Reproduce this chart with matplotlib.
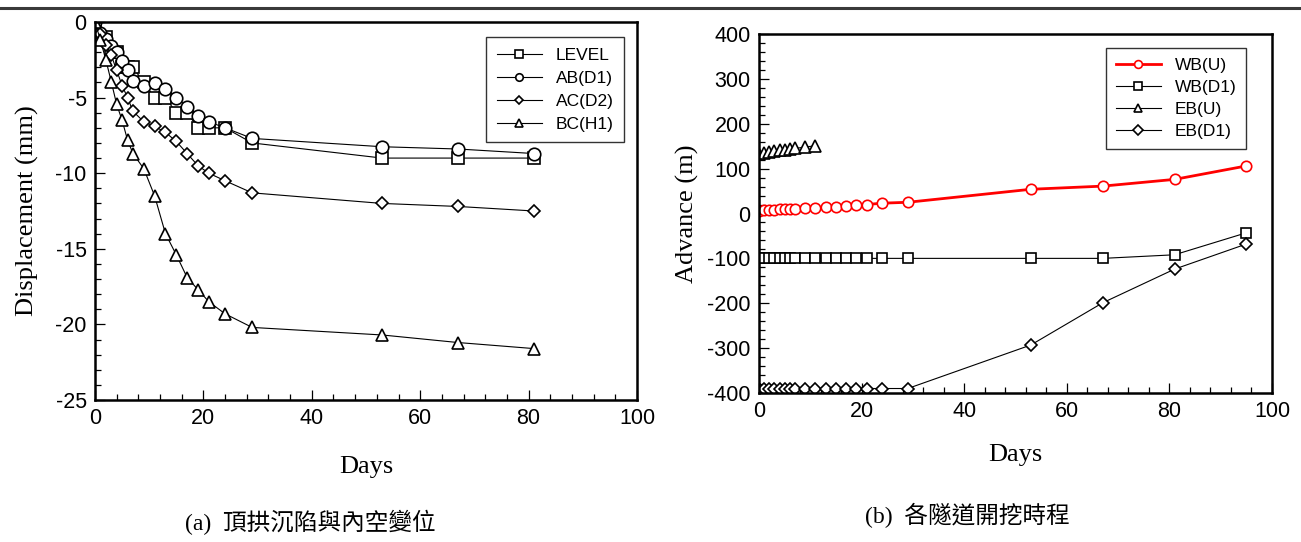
import matplotlib
matplotlib.use('Agg')
import matplotlib.pyplot as plt
from matplotlib.ticker import MultipleLocator
from matplotlib.lines import Line2D

# days of measurement
days_a = [0, 1, 2, 3, 4, 5, 6, 7, 9, 11, 13, 15, 17, 19, 21, 24, 29, 53, 67, 81]
days_b = [0, 1, 2, 3, 4, 5, 6, 7, 9, 11, 13, 15, 17, 19, 21, 24, 29, 53, 67, 81, 95]
days_eb_u = [0, 1, 2, 3, 4, 5, 6, 7, 9, 11]

# (a) crown settlement and convergence (mm)
level = [0, -1, -1, -2, -2, -3, -3, -3, -4, -5, -5, -6, -6, -7, -7, -7, -8, -9, -9, -9]
ab_d1 = [0, -0.7, -1.1, -1.6, -2.0, -2.6, -3.2, -3.9, -4.2, -4.05, -4.45, -5.0, -5.6,
         -6.2, -6.6, -7.0, -7.7, -8.25, -8.4, -8.7]
ac_d2 = [0, -0.8, -1.5, -2.2, -3.2, -4.2, -5.0, -5.9, -6.6, -6.9, -7.3, -7.9, -8.7,
         -9.5, -10.0, -10.5, -11.3, -12.0, -12.2, -12.5]
bc_h1 = [0, -1.2, -2.5, -3.95, -5.45, -6.5, -7.8, -8.7, -9.7, -11.5, -14.0, -15.4,
         -16.9, -17.7, -18.5, -19.3, -20.2, -20.7, -21.2, -21.6]

# (b) tunnel advance (m)
wb_u = [6, 7, 7, 8, 9, 9, 10, 10, 12, 13, 14, 15, 17, 18, 20, 23, 25, 54, 61, 76, 106]
wb_d1 = [-100] * 19 + [-92, -43]
eb_u = [132, 135, 137, 139, 141, 142, 144, 145, 148, 151]
eb_d1 = [-390] * 17 + [-293, -199, -124, -68]

plt.rcParams['font.family'] = ['Liberation Sans', 'DejaVu Sans']
plt.rcParams['axes.unicode_minus'] = False
serif = ['Liberation Serif', 'Noto Sans CJK TC']

W, H = 1301, 542
fig = plt.figure(figsize=(W / 100, H / 100), dpi=100)
fig.add_artist(Line2D([0, 1], [1 - 8 / H, 1 - 8 / H], color='#3a3a3a', lw=2.2))

ax1 = fig.add_axes([95 / W, 1 - 400 / H, 542 / W, 378 / H])
ax2 = fig.add_axes([759 / W, 1 - 393 / H, 513 / W, 359 / H])

mk = dict(color='black', lw=0.8, mfc='white', mec='black', mew=1.2)
ax1.plot(days_a, level, marker='s', ms=8.5, label='LEVEL', **mk)
ax1.plot(days_a, ab_d1, marker='o', ms=9, label='AB(D1)', **mk)
ax1.plot(days_a, ac_d2, marker='D', ms=6.5, label='AC(D2)', **mk)
ax1.plot(days_a, bc_h1, marker='^', ms=9, label='BC(H1)', **mk)

ax1.set_xlim(0, 100)
ax1.set_ylim(-25, 0)
ax1.xaxis.set_major_locator(MultipleLocator(20))
ax1.xaxis.set_minor_locator(MultipleLocator(4))
ax1.yaxis.set_major_locator(MultipleLocator(5))
ax1.yaxis.set_minor_locator(MultipleLocator(1))
ax1.set_xlabel('Days', family=serif, fontsize=19, labelpad=19.5)
ax1.set_ylabel('Displacement (mm)', family=serif, fontsize=19, labelpad=12)
ax1.legend(loc='upper right', bbox_to_anchor=(0.976, 0.960), borderaxespad=0,
           fontsize=12.5, fancybox=False, edgecolor='#333333', framealpha=1,
           markerscale=0.6, handlelength=2.6, labelspacing=0.45, borderpad=0.6)

ax2.plot(days_b, wb_u, color='red', lw=2, marker='o', ms=7.5, mfc='white',
         mec='red', mew=1.2, label='WB(U)')
mk2 = dict(color='black', lw=0.8, mfc='white', mec='black', mew=1.2)
ax2.plot(days_b, wb_d1, marker='s', ms=7.5, label='WB(D1)', **mk2)
ax2.plot(days_eb_u, eb_u, marker='^', ms=8.5, label='EB(U)', **mk2)
ax2.plot(days_b, eb_d1, marker='D', ms=6.5, label='EB(D1)', **mk2)

ax2.set_xlim(0, 100)
ax2.set_ylim(-400, 400)
ax2.xaxis.set_major_locator(MultipleLocator(20))
ax2.xaxis.set_minor_locator(MultipleLocator(4))
ax2.yaxis.set_major_locator(MultipleLocator(100))
ax2.yaxis.set_minor_locator(MultipleLocator(20))
ax2.set_xlabel('Days', family=serif, fontsize=19, labelpad=15.5)
ax2.set_ylabel('Advance (m)', family=serif, fontsize=19, labelpad=6)
ax2.legend(loc='upper right', bbox_to_anchor=(0.949, 0.961), borderaxespad=0,
           fontsize=12.5, fancybox=False, edgecolor='#333333', framealpha=1,
           markerscale=0.75, handlelength=2.6, labelspacing=0.4, borderpad=0.55)

for ax in (ax1, ax2):
    for s in ax.spines.values():
        s.set_linewidth(1.8)
    ax.tick_params(which='both', direction='in', labelsize=15.5, width=0.9)
    ax.tick_params(which='major', length=7, pad=6)
    ax.tick_params(which='minor', length=4.5)
    ax.tick_params(top=False, right=False, which='both')

fig.text(310 / W, 1 - 522 / H, '(a)  頂拱沉陷與內空變位', family=serif, fontsize=17,
         ha='center', va='center')
fig.text(967 / W, 1 - 515 / H, '(b)  各隧道開挖時程', family=serif, fontsize=17,
         ha='center', va='center')

fig.savefig('out.png', dpi=100)
